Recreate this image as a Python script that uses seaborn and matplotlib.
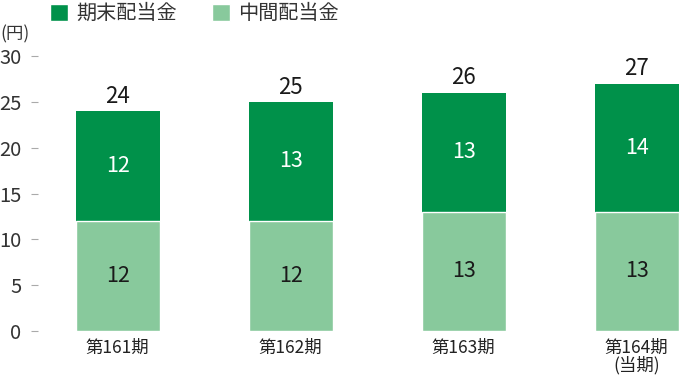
import numpy as np
import pandas as pd
import matplotlib
matplotlib.use("Agg")
import matplotlib.pyplot as plt
import seaborn as sns
from matplotlib.patches import Patch

sns.set_theme(style="white")
plt.rcParams['font.family'] = ['Noto Sans CJK JP', 'DejaVu Sans']

# データ
periods = ['第161期', '第162期', '第163期', '第164期\n(当期)']
interim = [12, 12, 13, 13]     # 中間配当金
year_end = [12, 13, 13, 14]    # 期末配当金
totals = [a + b for a, b in zip(interim, year_end)]
yticks = [0, 5, 10, 15, 20, 25, 30]

dark = '#00914A'
light = '#88C99C'

df = pd.DataFrame({'period': periods, 'interim': interim,
                   'year_end': year_end, 'total': totals})

fig = plt.figure(figsize=(6.8, 3.75), dpi=100)
ax = fig.add_axes([38 / 680, 1 - 331 / 375, 1 - 38 / 680, 275 / 375])

# 合計（濃い緑）の上に中間（薄い緑）を重ねて積み上げに見せる
sns.barplot(data=df, x='period', y='total', color=dark, saturation=1,
            width=0.485, linewidth=0, ax=ax)
sns.barplot(data=df, x='period', y='interim', color=light, saturation=1,
            width=0.485, edgecolor='white', linewidth=1, ax=ax)

for i in range(len(periods)):
    ax.text(i, totals[i] + 0.35, str(totals[i]), ha='center', va='bottom',
            fontsize=16, color='#1a1a1a')
    ax.text(i, interim[i] + year_end[i] / 2, str(year_end[i]), ha='center',
            va='center', fontsize=15.5, color='white')
    ax.text(i, interim[i] / 2, str(interim[i]), ha='center', va='center',
            fontsize=15.5, color='#1a1a1a')

ax.set_ylim(0, 30)
ax.set_xlim(-0.46, 3.25)
ax.set_yticks(yticks)
ax.set_xlabel('')
ax.set_ylabel('')
sns.despine(ax=ax, left=True, bottom=True)
ax.tick_params(axis='y', length=5, width=0.8, color='#aaaaaa', pad=7,
               labelsize=14.5, labelcolor='#333333', left=True)
ax.tick_params(axis='x', length=0, pad=5.5, labelsize=12.5, labelcolor='#222222')
for lab in ax.get_xticklabels():
    lab.set_linespacing(0.95)
    lab.set_va('top')

fig.text(0, 1 - 34 / 375, '(円)', fontsize=12.5, color='#333333',
         ha='left', va='center')

handles = [Patch(facecolor=dark, label='期末配当金'),
           Patch(facecolor=light, label='中間配当金')]
fig.legend(handles=handles, loc='upper left', bbox_to_anchor=(32 / 680, 1.04),
           ncol=2, frameon=False, fontsize=14.5, handlelength=0.9,
           handleheight=0.9, handletextpad=0.4, columnspacing=1.75,
           labelcolor='#333333')

fig.savefig('out.png', dpi=100)
